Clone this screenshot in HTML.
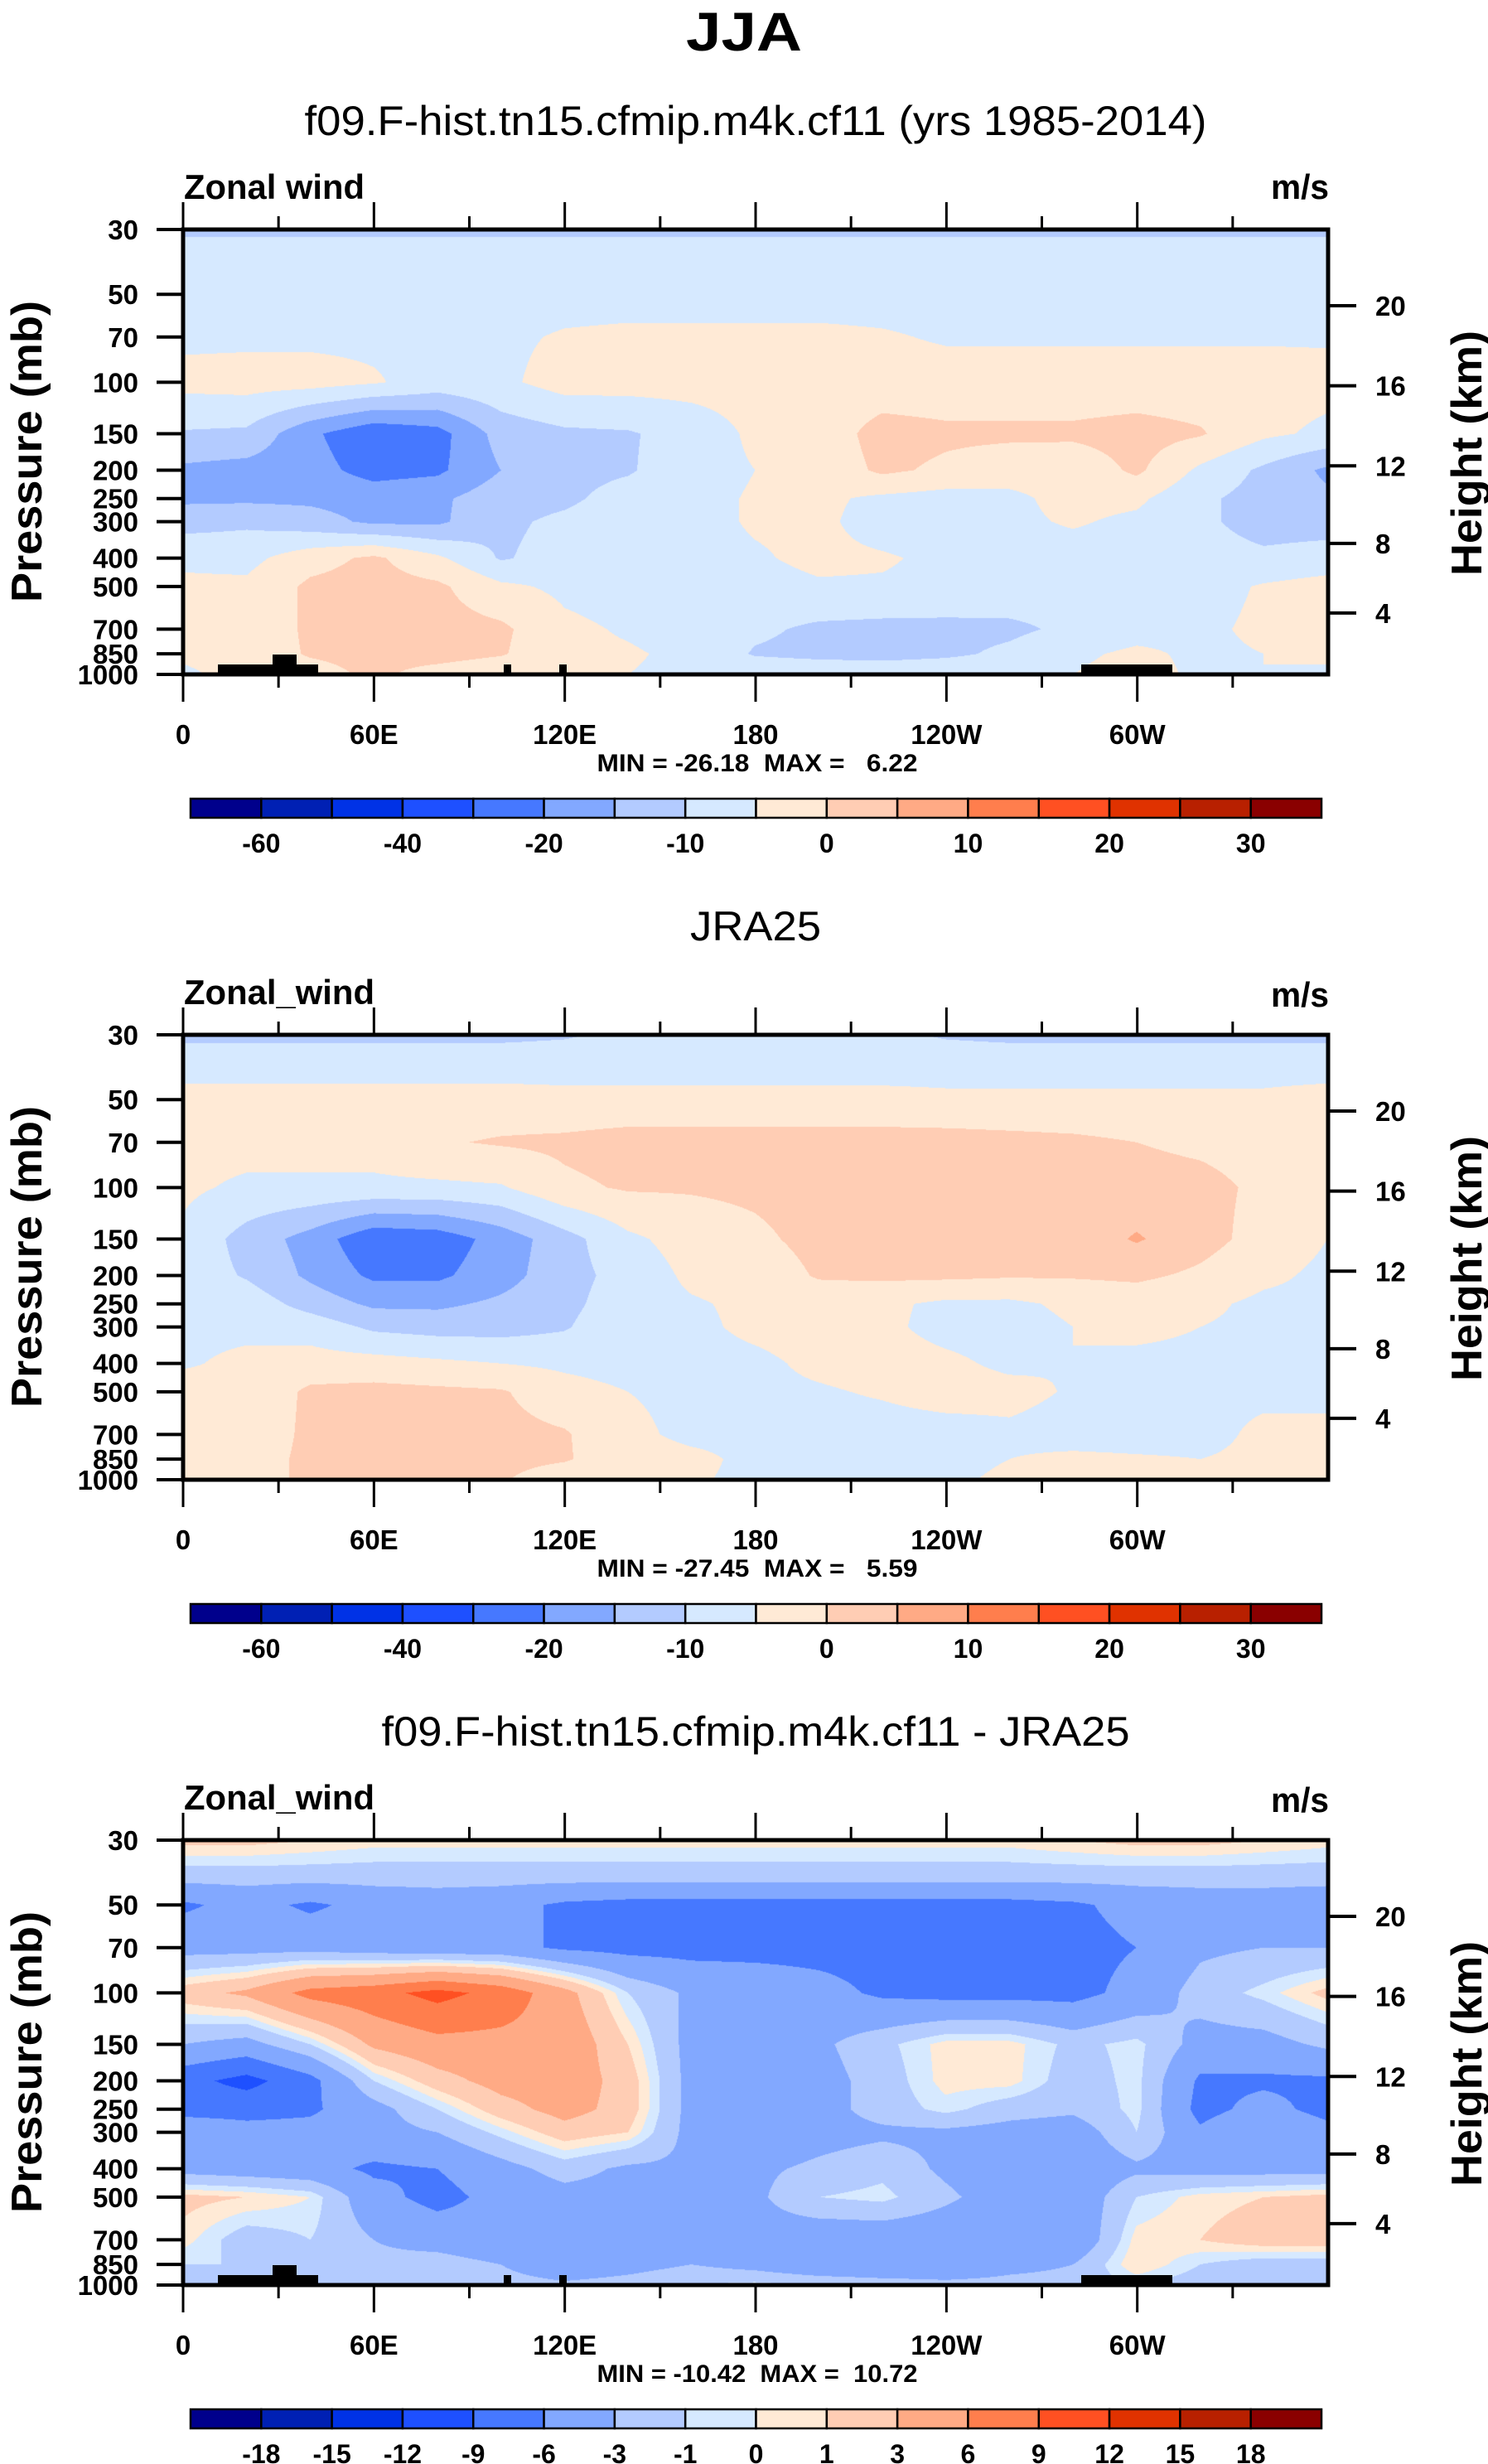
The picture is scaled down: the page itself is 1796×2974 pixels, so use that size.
<!DOCTYPE html>
<html><head><meta charset="utf-8">
<style>
html,body{margin:0;padding:0;background:#fff;}
#root{position:relative;width:1796px;height:2974px;overflow:hidden;background:#fff;font-family:"Liberation Sans",Arial,sans-serif;}
canvas{position:absolute;}
svg{position:absolute;left:0;top:0;}
text{white-space:pre;}
</style></head>
<body>
<div id="root">
<canvas id="c0" width="1381" height="537" style="left:221px;top:277px"></canvas>
<canvas id="c1" width="1381" height="537" style="left:221px;top:1249px"></canvas>
<canvas id="c2" width="1381" height="537" style="left:221px;top:2221px"></canvas>
<svg id="ov" width="1796" height="2974"></svg>
</div>
<script>
// ---------------- DATA ----------------
const lonGrid = [0,20,40,60,80,100,120,140,160,180,200,220,240,260,280,300,320,340,360];
const presLevels = [30,40,50,70,100,150,200,250,300,400,500,700,850,1000];
const levelsAbs = [-60,-50,-40,-30,-20,-15,-10,-5,0,5,10,15,20,25,30];
const levelsDiff = [-18,-15,-12,-9,-6,-3,-1,0,1,3,6,9,12,15,18];
const labelsAbs = ["-60","","-40","","-20","","-10","","0","","10","","20","","30"];
const labelsDiff = ["-18","-15","-12","-9","-6","-3","-1","0","1","3","6","9","12","15","18"];
const pTicks = [30,50,70,100,150,200,250,300,400,500,700,850,1000];
const zTicks = [20,16,12,8,4];
const lonTicks = [0,60,120,180,240,300];
const lonTickLabels = ["0","60E","120E","180","120W","60W"];
const colors = ["#00008c","#0020b4","#0032e6","#1e50ff","#4678ff","#82a8ff","#b3cbff","#d6e9ff","#ffead6","#ffcdb4","#ffaa85","#ff7e4d","#ff5022","#e03200","#b82000","#8a0000"];

const model = [
[-10.5,-10.5,-10.5,-10.5,-10.5,-10.5,-10.5,-10.5,-10.5,-10.5,-10.5,-10.5,-10.5,-10.5,-10.5,-10.5,-10.5,-10.5,-10.5],
[-8,-8,-8,-8,-8,-8,-8,-8,-8,-8,-8,-8,-8,-8,-8,-8,-8,-8,-8],
[-7,-7,-7,-7,-7,-7,-7,-7,-7,-7,-7,-7,-7,-7,-7,-7,-7,-7,-7],
[-6,-6,-6,-6,-6,-6,-4.5,-4,-4,-4,-4,-4.5,-5.5,-5.5,-5.5,-5.5,-5.5,-5.5,-5.5],
[-3.5,-3,-3,-4.5,-7,-6,-3,-3,-3,-3,-3,-3,-3,-3,-3,-3,-3,-3,-3.5],
[-10.5,-11,-19,-24,-22,-13,-11,-10.5,-8,-4,-3,2,1,1,1,2,0.5,-4,-6],
[-16,-17,-18,-22,-21,-15,-11.5,-10.5,-7,-5,-3.5,1,-1,-3,-3.5,1,-6,-11,-16],
[-16,-16,-16,-17,-16,-12,-11,-8,-6.5,-4.5,-4,-6,-7,-6,-3.5,-4,-9,-12,-14],
[-12,-11,-13,-16,-16,-11,-9,-7,-6.5,-4.5,-4,-7,-7.5,-6,-4.5,-6,-9,-12,-12],
[-6,-6.5,-2,1,-4,-10.5,-8,-7,-6.5,-5.5,-4,-4.5,-6,-7,-7,-7,-8,-9,-8],
[-4,-4,1,2,1,-4,-6,-7,-7,-6.5,-5.5,-5.5,-6,-7,-8,-8,-7,-4.5,-3],
[-4,-4,1,2,2,1,-4,-5.5,-7,-9,-11,-11.5,-11.5,-11,-9,-7,-6,-4,-4],
[-4,-3,0.5,1.5,2,0.5,-4,-4.5,-6,-10.5,-11.5,-12,-11,-9,-6,-4,-6,-5,-4],
[-6,-3,-2,1,-2,-4,-4,-5,-6,-6,-6,-6,-6,-6,-5,-3,-6,-5,-6]
];
const jra = [
[-11,-11,-11,-11,-11,-11,-10.5,-9,-9,-9,-9,-9,-10.5,-11,-11,-11,-11,-11,-11],
[-6.5,-6.5,-6.5,-6.5,-6.5,-6.5,-6.5,-6.5,-6.5,-6.5,-6.5,-6.5,-6.5,-6.5,-6.5,-6.5,-6.5,-6.5,-6.5],
[-3,-3,-3,-3,-3,-3,-3.5,-3.5,-3.5,-3.5,-3.5,-3.5,-4,-4,-4,-4,-4,-4,-3],
[-3,-3,-3,-3,-0.5,0.5,1,2,2,2,2,2,2,1.5,1,0,-1,-2,-3],
[-4,-6,-6,-6,-6,-5.5,-1,0.5,0.5,1,2,2,2,2,2,2,1.5,-1,-3],
[-6,-12,-17,-24,-23,-18,-12,-6,-3,-1,1.5,2,2,2,2,5.5,2,-2,-5],
[-7,-10.5,-16,-21,-21,-17,-12,-8,-4,-3,0.5,1,1,0.5,0.5,1,-1,-4,-6],
[-7,-7,-12,-16,-16,-14,-11.5,-7,-5.5,-4,-3,-4,-6,-6,-4,-3,-4,-6,-6],
[-6,-6,-7,-11,-12,-12,-10.5,-6,-6,-4,-3,-4,-6.5,-7,-5,-4,-5,-6,-6],
[-5.5,-4,-3,-3,-4,-5,-6,-7,-6.5,-6,-4,-3,-4,-6,-5,-6,-6,-6,-6],
[-3,-4,1,1.5,1,0.5,-3,-5,-6,-6,-5.5,-4.5,-3,-3.5,-5.5,-6,-6,-6,-6],
[-4,-3,1,1.5,2,1.5,0.5,-4,-6,-6,-7,-7,-7,-6,-7,-7,-6.5,-4,-4],
[-3,-2,1,2,2,1.5,0.5,-3,-4,-6,-7,-7,-6.5,-5,-4,-4.5,-5,-4,-3],
[0.5,-2,1,1,1,0.5,-3,-4,-4.5,-6,-6,-6,-6,-4,-4,-4,-5,-4,-3]
];
const diff = [
[1.5,1.5,1,0.5,0.5,0.5,0.5,0.5,0.5,0.5,0.5,0.5,0.5,0.5,1,1.5,1.5,1,0.5],
[-2,-2,-2,-2,-2,-2,-2,-2,-2,-2,-2,-2,-2,-2,-2,-2,-2,-2,-2],
[-6.5,-5,-6.5,-5,-4.5,-5,-6.5,-7,-7,-7,-7,-7,-7,-7,-6.5,-5,-4.5,-4.5,-5],
[-4,-4,-4,-4.5,-5,-5,-6.5,-7,-7,-7,-7,-7,-7,-7,-7,-6,-3.5,-3,-3],
[2,3.5,7,8,10,8,4,-1,-3.5,-4,-5,-6.5,-7,-7,-7,-5,-2,-0.5,1.5],
[-3,-4,-1,3.5,5,5,5,1,-4,-5,-3.5,-1.5,0.5,0.5,-1.5,-0.5,-4,-4,-2.5],
[-8,-10,-7,-1,2,4,4.5,2,-4,-5,-4,-2,0.5,0.5,-2,-0.5,-6.5,-6.5,-6.5],
[-7,-7,-6.5,-4,-1,2,4,2,-4,-5,-4,-2,-0.5,-2,-2.5,-0.5,-7,-5,-7],
[-4,-5,-5,-4,-3,-0.5,2,1,-4,-5,-4,-3.5,-3.5,-4,-4.5,-1,-5.5,-3,-5],
[-4,-4.5,-5,-6.5,-6,-4,-2,-3.5,-3.5,-3.5,-2.5,-1.5,-3.5,-5,-5,-3.5,-4,-4,-4],
[1.5,1,0,-5,-7,-5,-4,-4,-3,-3.5,-1,-0.5,-2.5,-4.5,-5,-1,0.5,1,1.5],
[0.5,-2,-1,-3,-4,-5,-5,-4,-3,-4,-5,-5,-5,-5,-5.5,0.5,1,2,2],
[-1,-1,-2,-2.5,-2,-3,-5,-4,-3,-4,-5.5,-6,-6,-4,-3,1,-1,-2,-2],
[-2,-2,-2,-2,-1.5,-2,-2.5,-2,-1,-0.5,-1,-1.5,-2,-2,-2,-1,-2,-2,-2]
];

// ---------------- GEOMETRY ----------------
const X0=221, X1=1603, PH=537, PANEL_DY=972, TOP0=277;
const W=X1-X0;
function xOf(lon){return X0+lon/360*W;}
function yOf(p,top){return top+Math.log(p/30)/Math.log(1000/30)*PH;}
function zToP(z){ if(z<=11) return 1013.25*Math.pow(1-2.2557e-5*z*1000,5.256); return 226.3*Math.exp(-(z-11)/6.34);}

function boxOf(v,lev){let k=0;for(let i=0;i<lev.length;i++){if(v>=lev[i])k=i+1;}return k;}
function hex(c){return [parseInt(c.substr(1,2),16),parseInt(c.substr(3,2),16),parseInt(c.substr(5,2),16)];}
const rgb=colors.map(hex);
const logP=presLevels.map(p=>Math.log(p));

function drawField(id,grid,lev){
  const cv=document.getElementById(id),ctx=cv.getContext('2d');
  const w=cv.width,h=cv.height,img=ctx.createImageData(w,h),d=img.data;
  const l30=Math.log(30),l1000=Math.log(1000);
  for(let py=0;py<h;py++){
    const lp=l30+(py+0.5)/h*(l1000-l30);
    let i=0;while(i<logP.length-2&&lp>logP[i+1])i++;
    let fy=(lp-logP[i])/(logP[i+1]-logP[i]);fy=Math.max(0,Math.min(1,fy));
    const r0=grid[i],r1=grid[i+1];
    for(let px=0;px<w;px++){
      const lon=(px+0.5)/w*360;
      let j=Math.min(lonGrid.length-2,Math.floor(lon/20));
      const fx=(lon-lonGrid[j])/(lonGrid[j+1]-lonGrid[j]);
      const v=(r0[j]*(1-fx)+r0[j+1]*fx)*(1-fy)+(r1[j]*(1-fx)+r1[j+1]*fx)*fy;
      const c=rgb[boxOf(v,lev)];const o=(py*w+px)*4;
      d[o]=c[0];d[o+1]=c[1];d[o+2]=c[2];d[o+3]=255;
    }
  }
  ctx.putImageData(img,0,0);
}
drawField('c0',model,levelsAbs);
drawField('c1',jra,levelsAbs);
drawField('c2',diff,levelsDiff);

// ---------------- OVERLAY ----------------
const NS='http://www.w3.org/2000/svg';
const svg=document.getElementById('ov');
function mk(tag,attrs,parent){const e=document.createElementNS(NS,tag);for(const k in attrs)e.setAttribute(k,attrs[k]);(parent||svg).appendChild(e);return e;}
function txt(s,attrs,parent){const e=mk('text',attrs,parent);e.textContent=s;return e;}

const mainTitle=txt('JJA',{x:898,y:61,'font-size':66,'font-weight':'bold','text-anchor':'middle',textLength:140,lengthAdjust:'spacingAndGlyphs'});



const panels=[
 {title:'f09.F-hist.tn15.cfmip.m4k.cf11 (yrs 1985-2014)',tl:1089,left:'Zonal wind',ll:218,min:'MIN = -26.18  MAX =   6.22',labels:labelsAbs,terrain:true,name:'model'},
 {title:'JRA25',tl:158,left:'Zonal_wind',ll:230,min:'MIN = -27.45  MAX =   5.59',labels:labelsAbs,terrain:false,name:'jra25'},
 {title:'f09.F-hist.tn15.cfmip.m4k.cf11 - JRA25',tl:903,left:'Zonal_wind',ll:230,min:'MIN = -10.42  MAX =  10.72',labels:labelsDiff,terrain:true,name:'difference'}
];
const terrainBlocks=[[263,384,12],[329,358,24],[608,617,12],[675,684,12],[1305,1415,12]];

panels.forEach((P,k)=>{
  const top=TOP0+k*PANEL_DY, bot=top+PH, o=k*PANEL_DY;
  const g=mk('g',{});
  
  
  const t=txt(P.title,{x:912,y:163+o,'font-size':50,'text-anchor':'middle',textLength:P.tl,lengthAdjust:'spacingAndGlyphs'},g);
  
  
  const lt=txt(P.left,{x:222,y:240+o,'font-size':42,'font-weight':'bold',textLength:P.ll,lengthAdjust:'spacingAndGlyphs'},g);
  
  
  const ut=txt('m/s',{x:1604,y:(k?243:240)+o,'font-size':42,'font-weight':'bold','text-anchor':'end',textLength:70,lengthAdjust:'spacingAndGlyphs'},g);
  
  
  if(P.terrain){
    terrainBlocks.forEach(b=>{
      const r=mk('rect',{x:b[0],y:bot-b[2],width:b[1]-b[0],height:b[2],fill:'#000'},g);
      
      
    });
  }
  const fr=mk('rect',{x:X0,y:top,width:W,height:PH,fill:'none',stroke:'#000','stroke-width':5},g);
  
  
  for(let lon=0;lon<=330;lon+=30){
    const major=lon%60===0, L=major?33:16, x=xOf(lon);
    const t1=mk('line',{x1:x,y1:top,x2:x,y2:top-L,stroke:'#000','stroke-width':3},g);
    
    
    const t2=mk('line',{x1:x,y1:bot,x2:x,y2:bot+L,stroke:'#000','stroke-width':3},g);
    
    
  }
  lonTicks.forEach((lon,i)=>{
    const e=txt(lonTickLabels[i],{x:xOf(lon),y:898+o,'font-size':33,'font-weight':'bold','text-anchor':'middle'},g);
    
    
  });
  pTicks.forEach(p=>{
    const y=yOf(p,top);
    const l=mk('line',{x1:X0,y1:y,x2:X0-32,y2:y,stroke:'#000','stroke-width':4},g);
    
    
    const e=txt(String(p),{x:167,y:y+12,'font-size':33,'font-weight':'bold','text-anchor':'end'},g);
    
    
  });
  zTicks.forEach(z=>{
    const y=yOf(zToP(z),top);
    const l=mk('line',{x1:X1,y1:y,x2:X1+34,y2:y,stroke:'#000','stroke-width':4},g);
    
    
    const e=txt(String(z),{x:1660,y:y+12,'font-size':33,'font-weight':'bold'},g);
    
    
  });
  const ya=txt('Pressure (mb)',{x:0,y:0,'font-size':52,'font-weight':'bold','text-anchor':'middle',transform:`translate(50,${545+o}) rotate(-90)`,textLength:364,lengthAdjust:'spacingAndGlyphs'},g);
  
  
  const ha=txt('Height (km)',{x:0,y:0,'font-size':52,'font-weight':'bold','text-anchor':'middle',transform:`translate(1788,${547+o}) rotate(-90)`,textLength:296,lengthAdjust:'spacingAndGlyphs'},g);
  
  
  const mm=txt(P.min,{x:914,y:931+o,'font-size':30,'font-weight':'bold','text-anchor':'middle',textLength:387,lengthAdjust:'spacingAndGlyphs'},g);
  
  
  const cb=mk('g',{},g);
  
  
  const cx0=230,cx1=1595,bw=(cx1-cx0)/16,cy=964+o;
  colors.forEach((c,i)=>{
    const r=mk('rect',{x:cx0+i*bw,y:cy,width:bw,height:23,fill:c,stroke:'#000','stroke-width':2.5},cb);
    
    
  });
  P.labels.forEach((s,i)=>{
    if(!s)return;
    const e=txt(s,{x:cx0+(i+1)*bw,y:1029+o,'font-size':32,'font-weight':'bold','text-anchor':'middle'},cb);
    
    
  });
});
</script>
</body></html>
